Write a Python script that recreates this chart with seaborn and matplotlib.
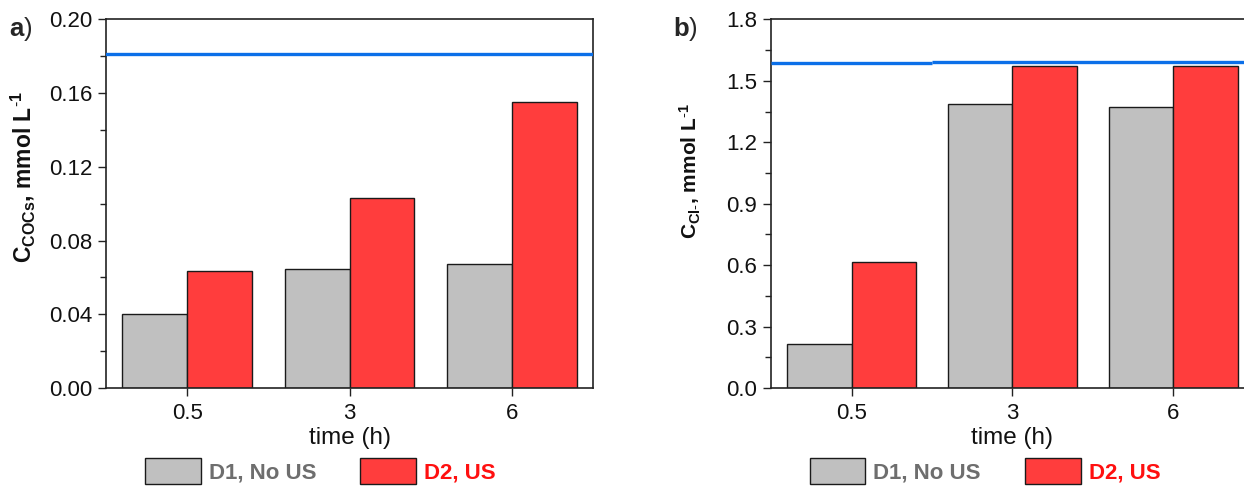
import matplotlib
matplotlib.use("Agg")
import matplotlib.pyplot as plt
from matplotlib.patches import Patch
from matplotlib.ticker import MultipleLocator
import seaborn as sns
import pandas as pd

# Sampling times and measured concentrations
times = ["0.5", "3", "6"]
series = ["D1, No US", "D2, US"]
cocs_d1 = [0.040, 0.0645, 0.0672]
cocs_d2 = [0.0634, 0.103, 0.155]
cl_d1 = [0.215, 1.387, 1.372]
cl_d2 = [0.615, 1.575, 1.575]
# Reference (theoretical) levels drawn as horizontal lines
cocs_ref = 0.181
cl_ref_left = 1.586
cl_ref_right = 1.593

bar_colors = ["#c0c0c0", "#ff3d3d"]
text_colors = ["#6e6e6e", "#ff1010"]
line_color = "#0b6fe8"

sns.set_theme(style="white")
plt.rcParams["font.family"] = ["Liberation Sans", "DejaVu Sans"]
plt.rcParams["mathtext.fontset"] = "custom"
plt.rcParams["mathtext.rm"] = "Liberation Sans"
plt.rcParams["mathtext.bf"] = "Liberation Sans:bold"
plt.rcParams["mathtext.it"] = "Liberation Sans:italic"


def long_frame(d1, d2):
    return pd.DataFrame({
        "time": times * 2,
        "series": [series[0]] * len(times) + [series[1]] * len(times),
        "value": list(d1) + list(d2),
    })


fig = plt.figure(figsize=(12.44, 4.86), dpi=100)
ax_a = fig.add_axes([0.0852, 0.2016, 0.3915, 0.7584])
ax_b = fig.add_axes([0.6198, 0.2016, 0.3882, 0.7584])

panels = [
    (ax_a, long_frame(cocs_d1, cocs_d2), (0, 0.20), 0.04, 0.02, "{:.2f}",
     r"C$_{\mathregular{COCs}}$, mmol L$^{\mathbf{\text{-}1}}$", 16.5,
     r"$\mathbf{a}$)", (-0.142, 0.573), -0.20),
    (ax_b, long_frame(cl_d1, cl_d2), (0, 1.8), 0.3, 0.15, "{:.1f}",
     r"C$_{\mathregular{Cl\text{-}}}$, mmol L$^{\mathbf{\text{-}1}}$", 15,
     r"$\mathbf{b}$)", (-0.141, 0.589), -0.203),
]

for ax, df, ylim, major, minor, fmt, ylabel, ysize, tag, lab_xy, tag_x in panels:
    sns.barplot(data=df, x="time", y="value", hue="series", order=times,
                hue_order=series, palette=bar_colors, width=0.8,
                edgecolor="#1a1a1a", linewidth=1.0, saturation=1,
                ax=ax, legend=False)
    ax.set_xlim(-0.5, 2.5)
    ax.set_ylim(*ylim)
    ax.yaxis.set_major_locator(MultipleLocator(major))
    ax.yaxis.set_minor_locator(MultipleLocator(minor))
    ax.set_yticks(ax.get_yticks())
    ax.set_yticklabels([fmt.format(v) for v in ax.get_yticks()])
    ax.set_ylim(*ylim)
    ax.tick_params(axis="both", which="major", direction="out", length=6,
                   width=1.0, color="#222222", labelsize=16, pad=4,
                   bottom=True, left=True, labelcolor="#111111")
    ax.tick_params(axis="x", which="major", pad=5)
    ax.tick_params(axis="y", which="minor", direction="out", length=4,
                   width=1.0, color="#222222", left=True)
    for sp in ax.spines.values():
        sp.set_color("#222222")
        sp.set_linewidth(1.2)
    ax.set_xlabel("time (h)", fontsize=17.5, labelpad=2, color="#111111")
    ax.set_ylabel(ylabel, fontsize=ysize, fontweight="bold", color="#111111")
    ax.yaxis.set_label_coords(*lab_xy)
    ax.text(tag_x, 1.012, tag, transform=ax.transAxes, fontsize=18.5,
            ha="left", va="top")

    handles = [Patch(facecolor=c, edgecolor="#1a1a1a", linewidth=1.0)
               for c in bar_colors]
    leg = ax.legend(handles, series, loc="upper left",
                    bbox_to_anchor=(0.08, -0.19), ncol=2, frameon=False,
                    handlelength=2.5, handleheight=1.4, handletextpad=0.36,
                    columnspacing=2.0, borderaxespad=0, borderpad=0,
                    prop={"size": 16, "weight": "bold"})
    for t, c in zip(leg.get_texts(), text_colors):
        t.set_color(c)

ax_a.axhline(cocs_ref, color=line_color, linewidth=2.4, zorder=5)
ax_b.hlines(cl_ref_left, -0.5, 0.5, color=line_color, linewidth=2.4, zorder=5)
ax_b.hlines(cl_ref_right, 0.5, 2.5, color=line_color, linewidth=2.4, zorder=5)

fig.savefig("out.png", dpi=100)
